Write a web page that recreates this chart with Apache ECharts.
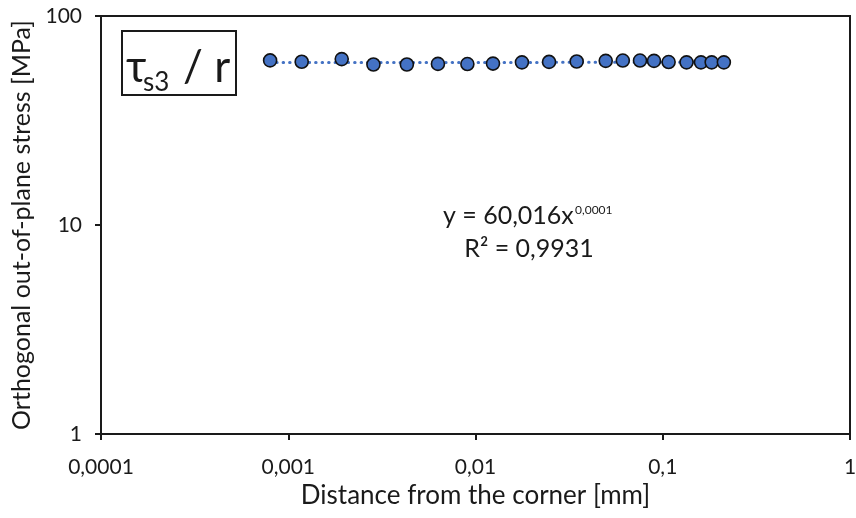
<!DOCTYPE html>
<html>
<head>
<meta charset="utf-8">
<script src="https://cdn.jsdelivr.net/npm/echarts@6/dist/echarts.min.js"></script>
<style>
html,body{margin:0;padding:0;background:#fff;}
#chart{width:856px;height:518px;}
</style>
</head>
<body>
<div id="chart"></div>
<script>
// Data
var distances = [0.00080, 0.00118, 0.00193, 0.00285, 0.00430, 0.00630, 0.00905, 0.01240, 0.01770, 0.02470, 0.03470, 0.04960, 0.06120, 0.07560, 0.08980, 0.10750, 0.13400, 0.16000, 0.18250, 0.21200];
var stresses  = [61.3, 60.4, 62.2, 58.6, 58.6, 59.0, 58.9, 59.2, 60.0, 60.3, 60.6, 61.0, 61.2, 61.2, 61.0, 60.2, 60.0, 60.0, 60.0, 60.0];
var xTickLabels = ['0,0001', '0,001', '0,01', '0,1', '1'];
var yTickLabels = ['1', '10', '100'];
var trendA = 60.016;
var trendB = 0.0001;
var xTitle = 'Distance from the corner [mm]';
var yTitle = 'Orthogonal out-of-plane stress [MPa]';

var pts = distances.map(function (d, i) { return [d, stresses[i]]; });
var xFirst = distances[0], xLast = distances[distances.length - 1];
var trendPts = [[xFirst, trendA * Math.pow(xFirst, trendB)], [xLast, trendA * Math.pow(xLast, trendB)]];

var FONT = 'Lato';
var TXT = '#1a1a1a';

var chart = echarts.init(document.getElementById('chart'));
chart.setOption({
  animation: false,
  backgroundColor: '#fff',
  textStyle: { fontFamily: FONT },
  grid: { left: 101, right: 6, top: 16, bottom: 84, containLabel: false, outerBoundsMode: 'none',
          show: true, borderColor: '#1a1a1a', borderWidth: 2, backgroundColor: 'transparent' },
  xAxis: {
    type: 'log', logBase: 10, min: 0.0001, max: 1,
    axisLine: { show: true, lineStyle: { color: '#1a1a1a', width: 2 } },
    axisTick: { show: true, length: 6, lineStyle: { color: '#1a1a1a', width: 2 } },
    splitLine: { show: false },
    minorTick: { show: false },
    axisLabel: {
      color: TXT, fontSize: 21, fontFamily: FONT, margin: 23,
      formatter: function (v) { var k = Math.round(Math.log10(v)) + 4; return xTickLabels[k] || ''; }
    },
    name: xTitle, nameLocation: 'middle', nameGap: 49,
    nameTextStyle: { color: TXT, fontSize: 26, fontFamily: FONT }
  },
  yAxis: {
    type: 'log', logBase: 10, min: 1, max: 100,
    axisLine: { show: true, lineStyle: { color: '#1a1a1a', width: 2 } },
    axisTick: { show: true, length: 6, lineStyle: { color: '#1a1a1a', width: 2 } },
    splitLine: { show: false },
    minorTick: { show: false },
    axisLabel: {
      color: TXT, fontSize: 21, fontFamily: FONT, margin: 19,
      formatter: function (v) { var k = Math.round(Math.log10(v)); return yTickLabels[k] || ''; }
    },
    name: yTitle, nameLocation: 'middle', nameGap: 67,
    nameTextStyle: { color: TXT, fontSize: 25, fontFamily: FONT }
  },
  series: [
    {
      type: 'line', data: trendPts, symbol: 'none', z: 2,
      lineStyle: { color: '#4472C4', width: 3, type: [0.5, 6], cap: 'round' }
    },
    {
      type: 'scatter', data: pts, symbol: 'circle', symbolSize: 13, z: 3,
      itemStyle: { color: '#4472C4', borderColor: '#111', borderWidth: 1.6, opacity: 1 }
    }
  ],
  graphic: [
    { type: 'rect', shape: { x: 122, y: 31, width: 114, height: 64 }, style: { fill: '#fff', stroke: '#1a1a1a', lineWidth: 2 }, z: 10 },
    { type: 'text', x: 126, y: 46, style: { text: 'τ', fontSize: 44, fontFamily: FONT, fill: TXT, verticalAlign: 'top' }, z: 11 },
    { type: 'text', x: 143, y: 70, style: { text: 's3', fontSize: 26, fontFamily: FONT, fill: TXT, verticalAlign: 'top' }, z: 11 },
    { type: 'text', x: 183, y: 46, style: { text: '/ r', fontSize: 44, fontFamily: FONT, fill: TXT, verticalAlign: 'top' }, z: 11 },
    { type: 'text', x: 443, y: 203, style: { text: 'y = 60,016x', fontSize: 25, fontFamily: FONT, fill: TXT, verticalAlign: 'top' }, z: 11 },
    { type: 'text', x: 575, y: 204, style: { text: '0,0001', fontSize: 12, fontFamily: FONT, fill: TXT, verticalAlign: 'top' }, z: 11 },
    { type: 'text', x: 529, y: 236, style: { text: 'R² = 0,9931', fontSize: 25, fontFamily: FONT, fill: TXT, align: 'center', verticalAlign: 'top' }, z: 11 }
  ]
});
</script>
</body>
</html>
